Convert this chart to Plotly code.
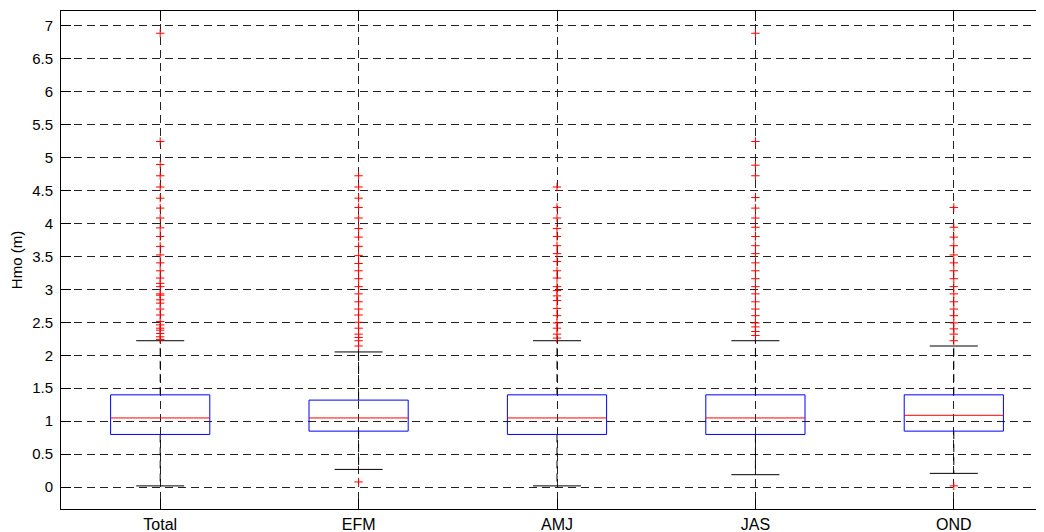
import plotly.graph_objects as go

# ---- data ----
categories = ["Total", "EFM", "AMJ", "JAS", "OND"]
q1 = [0.80, 0.85, 0.80, 0.80, 0.85]
medians = [1.05, 1.05, 1.05, 1.05, 1.09]
q3 = [1.40, 1.32, 1.40, 1.40, 1.40]
lower_whisker = [0.02, 0.27, 0.02, 0.19, 0.21]
upper_whisker = [2.22, 2.05, 2.22, 2.22, 2.14]

outliers_total = [6.88, 5.24, 4.89, 4.72, 4.55, 4.38, 4.23, 4.08, 3.93, 3.80, 3.65,
                  3.52, 3.40, 3.28, 3.17, 3.09, 3.04, 2.93, 2.91, 2.84, 2.79, 2.70,
                  2.61, 2.51, 2.46, 2.41, 2.38, 2.33, 2.28, 2.24]
outliers_efm = [4.72, 4.55, 4.38, 4.24, 4.08, 3.92, 3.79, 3.65, 3.51, 3.39, 3.28,
                3.16, 3.04, 2.93, 2.81, 2.70, 2.61, 2.50, 2.41, 2.32, 2.27, 2.22,
                2.14, 0.08]
outliers_amj = [4.55, 4.24, 4.08, 3.92, 3.80, 3.66, 3.54, 3.42, 3.28, 3.17, 3.04,
                2.98, 2.90, 2.83, 2.71, 2.60, 2.49, 2.41, 2.32, 2.26]
outliers_jas = [6.88, 5.24, 4.88, 4.72, 4.39, 4.23, 4.08, 3.94, 3.80, 3.66, 3.54,
                3.40, 3.28, 3.16, 3.04, 2.93, 2.81, 2.70, 2.60, 2.49, 2.43, 2.36,
                2.30]
outliers_ond = [4.24, 3.94, 3.79, 3.66, 3.52, 3.40, 3.28, 3.16, 3.04, 2.93, 2.81,
                2.70, 2.60, 2.49, 2.40, 2.32, 2.22, 0.02]

y_ticks = [0, 0.5, 1, 1.5, 2, 2.5, 3, 3.5, 4, 4.5, 5, 5.5, 6, 6.5, 7]
y_ticklabels = ["0", "0.5", "1", "1.5", "2", "2.5", "3", "3.5", "4", "4.5",
                "5", "5.5", "6", "6.5", "7"]

# ---- build figure ----
positions = list(range(1, len(categories) + 1))
BOX_HALF = 0.25
CAP_HALF = 0.121
FONT = "Liberation Sans, Arial, Helvetica, sans-serif"

bx, by = [], []
mx, my = [], []
wx, wy = [], []
cx, cy = [], []
for p, a, m, b, lo, hi in zip(positions, q1, medians, q3, lower_whisker, upper_whisker):
    bx += [p - BOX_HALF, p + BOX_HALF, p + BOX_HALF, p - BOX_HALF, p - BOX_HALF, None]
    by += [a, a, b, b, a, None]
    mx += [p - BOX_HALF, p + BOX_HALF, None]
    my += [m, m, None]
    wx += [p, p, None, p, p, None]
    wy += [b, hi, None, a, lo, None]
    cx += [p - CAP_HALF, p + CAP_HALF, None, p - CAP_HALF, p + CAP_HALF, None]
    cy += [hi, hi, None, lo, lo, None]

ox, oy = [], []
for p, vals in zip(positions, [outliers_total, outliers_efm, outliers_amj,
                               outliers_jas, outliers_ond]):
    ox += [p] * len(vals)
    oy += vals

fig = go.Figure()
fig.add_trace(go.Scatter(x=wx, y=wy, mode="lines",
                         line=dict(color="black", width=1, dash="8px,5px"),
                         hoverinfo="skip"))
fig.add_trace(go.Scatter(x=cx, y=cy, mode="lines",
                         line=dict(color="black", width=1), hoverinfo="skip"))
fig.add_trace(go.Scatter(x=bx, y=by, mode="lines",
                         line=dict(color="#0000ff", width=1), hoverinfo="skip"))
fig.add_trace(go.Scatter(x=mx, y=my, mode="lines",
                         line=dict(color="#ff0000", width=1), hoverinfo="skip"))
fig.add_trace(go.Scatter(x=ox, y=oy, mode="markers",
                         marker=dict(symbol="cross-thin", size=6,
                                     line=dict(color="#ff0000", width=1)),
                         hoverinfo="skip"))

# The page body has an 8px default margin; the figure size and margins
# compensate so the plot area sits where the reference has it.
fig.update_layout(
    width=1036, height=524,
    margin=dict(l=53, r=0, t=3, b=23, autoexpand=False),
    paper_bgcolor="white", plot_bgcolor="white",
    showlegend=False,
    font=dict(family=FONT, color="black"),
)
fig.update_xaxes(
    range=[0.5, 5.4546],
    tickmode="array", tickvals=positions, ticktext=categories,
    ticks="inside", ticklen=10, tickcolor="black", tickwidth=1,
    showline=True, linecolor="black", linewidth=1, mirror="ticks",
    showgrid=True, gridcolor="#222222", gridwidth=1, griddash="8px,5px",
    zeroline=False, automargin=False,
    tickfont=dict(family=FONT, size=16, color="black"),
    ticklabelstandoff=1,
)
fig.update_yaxes(
    range=[-0.33, 7.217],
    tickmode="array", tickvals=y_ticks, ticktext=y_ticklabels,
    ticks="inside", ticklen=10, tickcolor="black", tickwidth=1,
    showline=True, linecolor="black", linewidth=1, mirror=False,
    showgrid=True, gridcolor="#222222", gridwidth=1, griddash="8px,5px",
    zeroline=False, automargin=False,
    tickfont=dict(family=FONT, size=15, color="black"),
    ticklabelstandoff=4,
    title=dict(text="Hmo (m)", font=dict(family=FONT, size=15, color="black"),
               standoff=8),
)

fig.write_html("out.html")
